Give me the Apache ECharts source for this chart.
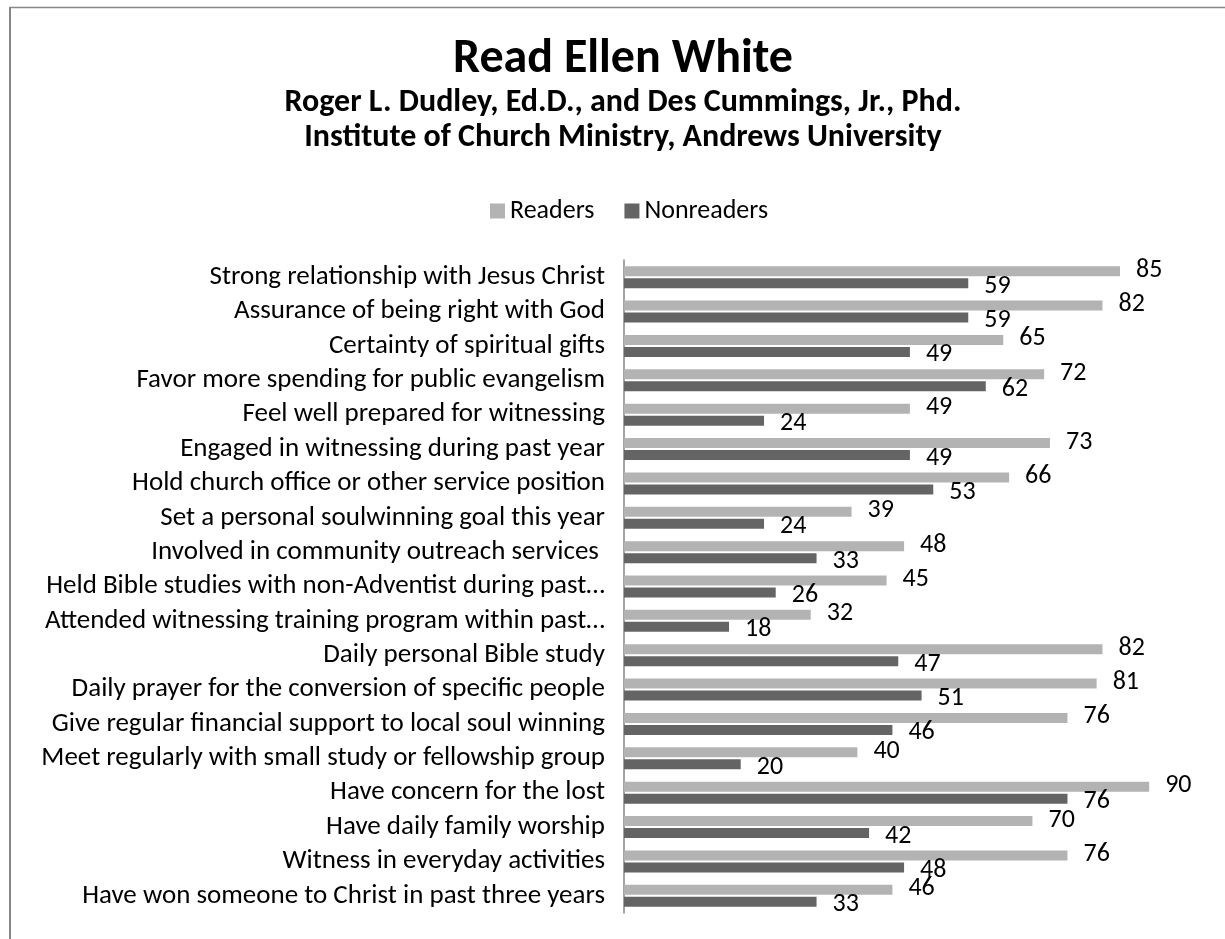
<!DOCTYPE html>
<html>
<head>
<meta charset="utf-8">
<script src="https://cdn.jsdelivr.net/npm/echarts@6/dist/echarts.min.js"></script>
<style>
  html, body { margin: 0; padding: 0; background: #fff; }
  #chart { width: 1225px; height: 939px; }
</style>
</head>
<body>
<div id="chart"></div>
<script>
const titleText = "Read Ellen White";
const subtitleLines = [
  "Roger L. Dudley, Ed.D., and Des Cummings, Jr., Phd.",
  "Institute of Church Ministry, Andrews University"
];
const categories = [
  "Strong relationship with Jesus Christ",
  "Assurance of being right with God",
  "Certainty of spiritual gifts",
  "Favor more spending for public evangelism",
  "Feel well prepared for witnessing",
  "Engaged in witnessing during past year",
  "Hold church office or other service position",
  "Set a personal soulwinning goal this year",
  "Involved in community outreach services ",
  "Held Bible studies with non-Adventist during past…",
  "Attended witnessing training program within past…",
  "Daily personal Bible study",
  "Daily prayer for the conversion of specific people",
  "Give regular financial support to local soul winning",
  "Meet regularly with small study or fellowship group",
  "Have concern for the lost",
  "Have daily family worship",
  "Witness in everyday activities",
  "Have won someone to Christ in past three years"
];
const readers =    [85, 82, 65, 72, 49, 73, 66, 39, 48, 45, 32, 82, 81, 76, 40, 90, 70, 76, 46];
const nonreaders = [59, 59, 49, 62, 24, 49, 53, 24, 33, 26, 18, 47, 51, 46, 20, 76, 42, 48, 33];
const seriesNames = ["Readers", "Nonreaders"];

const FONT = "Carlito, Calibri, Lato, sans-serif";
const chart = echarts.init(document.getElementById('chart'), null, { renderer: 'canvas' });
chart.setOption({
  backgroundColor: '#ffffff',
  animation: false,
  legend: {
    data: seriesNames,
    left: 485,
    top: 193,
    itemWidth: 15,
    itemHeight: 15,
    itemGap: 30,
    icon: 'rect',
    textStyle: { fontFamily: FONT, fontSize: 26, color: '#000' }
  },
  graphic: [
    { type: 'line', shape: { x1: 10, y1: 7.5, x2: 1225, y2: 7.5 }, style: { stroke: '#868686', lineWidth: 1.5 } },
    { type: 'line', shape: { x1: 10, y1: 7, x2: 10, y2: 939 }, style: { stroke: '#868686', lineWidth: 2 } },
    { type: 'text', x: 623, y: 60, style: { text: titleText, fontFamily: FONT, fontWeight: 'bold', fontSize: 48, fill: '#000', align: 'center', verticalAlign: 'middle' } },
    { type: 'text', x: 623, y: 103, style: { text: subtitleLines[0], fontFamily: FONT, fontWeight: 'bold', fontSize: 32, fill: '#000', align: 'center', verticalAlign: 'middle' } },
    { type: 'text', x: 623, y: 138, style: { text: subtitleLines[1], fontFamily: FONT, fontWeight: 'bold', fontSize: 32, fill: '#000', align: 'center', verticalAlign: 'middle' } }
  ],
  grid: { left: 624, top: 260, width: 583.5, bottom: 26, containLabel: false, outerBoundsMode: 'none' },
  xAxis: {
    type: 'value', min: 0, max: 100, show: false, splitLine: { show: false }
  },
  yAxis: {
    type: 'category',
    data: categories,
    inverse: true,
    axisLine: { show: true, lineStyle: { color: '#868686', width: 1.5 } },
    axisTick: { show: false },
    axisLabel: { fontFamily: FONT, fontSize: 27, color: '#000', margin: 19, interval: 0 }
  },
  series: [
    {
      name: seriesNames[0], type: 'bar', data: readers,
      barWidth: 10, barGap: '20%',
      itemStyle: { color: '#b3b3b3' },
      label: { show: true, position: 'right', distance: 16, offset: [0, -1], fontFamily: FONT, fontSize: 26, color: '#000' }
    },
    {
      name: seriesNames[1], type: 'bar', data: nonreaders,
      barWidth: 10, barGap: '20%',
      itemStyle: { color: '#646464' },
      label: { show: true, position: 'right', distance: 16, offset: [0, 3], fontFamily: FONT, fontSize: 26, color: '#000' }
    }
  ]
});
</script>
</body>
</html>
